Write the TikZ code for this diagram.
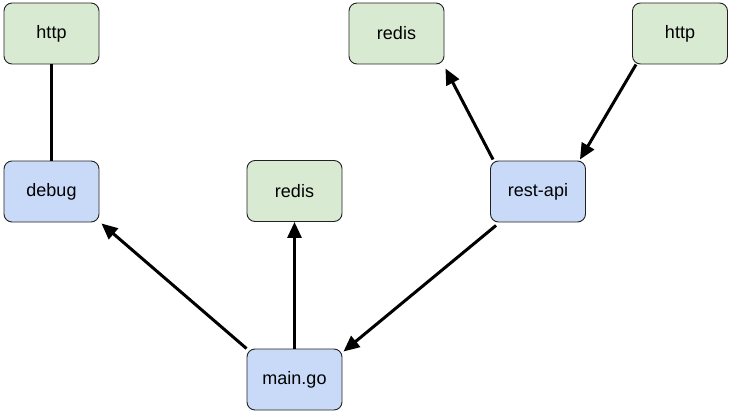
\documentclass[tikz,border=0pt]{standalone}
\usepackage{fontspec}
\setmainfont{Liberation Sans}
\usetikzlibrary{arrows.meta,calc}
\definecolor{gfill}{HTML}{D9EAD3}
\definecolor{bfill}{HTML}{C9DAF8}
\definecolor{edgecol}{HTML}{222222}
\tikzset{
  box/.style={draw=edgecol, line width=0.9pt, rounded corners=8pt, minimum width=95pt, minimum height=61pt, inner sep=0pt, font=\fontsize{18}{21}\selectfont},
  gbox/.style={box, fill=gfill},
  bbox/.style={box, fill=bfill},
  conn/.style={line width=3pt, black},
  arr/.style={conn, -{Triangle[length=16pt,width=14pt]}}
}
\begin{document}
\begin{tikzpicture}[x=1pt,y=-1pt]
\useasboundingbox (0,0) rectangle (729,412);
\node[gbox] (http1) at (51.5,33.5) {http};
\node[bbox] (debug) at (51.5,191.5) {debug};
\node[gbox] (redis1) at (294.5,191) {redis};
\node[bbox] (main) at (294.5,379.5) {main.go};
\node[bbox] (rest) at (538,191.5) {rest-api};
\node[gbox] (redis2) at (396.5,33.5) {redis};
\node[gbox] (http2) at (680,33.5) {http};

\draw[conn] (http1.south) -- (debug.north);
\draw[arr] (main.north west) -- ($(debug.south east)+(2,1)$);
\draw[arr] (main.north) -- (redis1.south);
\draw[arr] ($(rest.south west)+(6,3)$) -- ($(main.north east)+(1,3)$);
\draw[arr] ($(rest.north west)+(3,-1)$) -- ($(redis2.south east)+(1,4)$);
\draw[arr] ($(http2.south west)+(4,0)$) -- ($(rest.north east)+(-6,-1)$);
\end{tikzpicture}
\end{document}
